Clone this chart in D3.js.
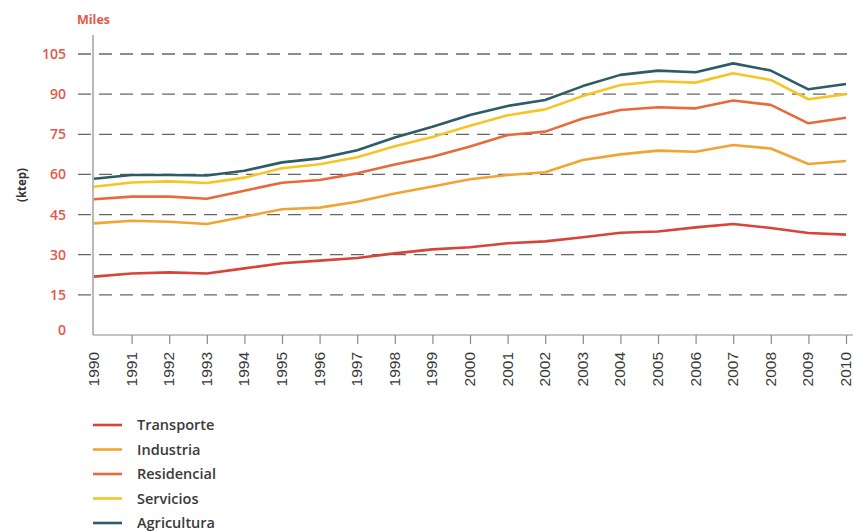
<!DOCTYPE html>
<html>
<head>
<meta charset="utf-8">
<script src="https://cdn.jsdelivr.net/npm/d3@7"></script>
<style>
  body { margin: 0; background: #fff; }
  svg { display: block; }
</style>
</head>
<body>
<svg id="chart" width="853" height="531"></svg>
<script>
// data (thousands of ktep)
const years = [1990, 1991, 1992, 1993, 1994, 1995, 1996, 1997, 1998, 1999, 2000,
  2001, 2002, 2003, 2004, 2005, 2006, 2007, 2008, 2009, 2010];
const transporte = [21.8, 23, 23.4, 23, 24.9, 26.8, 27.8, 28.8, 30.5, 32, 32.8,
  34.3, 35, 36.5, 38.2, 38.7, 40.2, 41.5, 40, 38.1, 37.5];
const industria = [41.7, 42.7, 42.3, 41.5, 44.2, 47, 47.6, 49.8, 52.9, 55.5, 58.2,
  59.8, 60.8, 65.4, 67.5, 68.9, 68.5, 71, 69.7, 63.9, 65];
const residencial = [50.7, 51.7, 51.7, 50.9, 53.9, 56.9, 57.9, 60.4, 63.7, 66.6, 70.4,
  74.7, 76, 80.9, 84.1, 85.1, 84.7, 87.6, 86, 79.1, 81.2];
const servicios = [55.4, 57, 57.4, 56.8, 58.8, 62.3, 63.8, 66.4, 70.5, 74, 78.2,
  82.1, 84.3, 89.3, 93.4, 94.8, 94.3, 97.8, 95.3, 88.1, 90];
const agricultura = [58.4, 59.8, 59.8, 59.6, 61.4, 64.5, 66, 69, 73.8, 77.8, 82.2,
  85.6, 87.8, 93, 97.2, 98.8, 98.2, 101.5, 98.8, 91.8, 93.8];
const yTicks = [0, 15, 30, 45, 60, 75, 90, 105];
const seriesNames = ["Transporte", "Industria", "Residencial", "Servicios", "Agricultura"];
const seriesColors = ["#d8443a", "#f0a532", "#e86a3c", "#f6c525", "#2e5b68"];
const seriesValues = [transporte, industria, residencial, servicios, agricultura];

const svg = d3.select("#chart");
const marginLeft = 93, marginTop = 54, marginBottom = 335;

const x = d3.scaleLinear().domain([1990, 2010]).range([marginLeft + 1, 846]);
const y = d3.scaleLinear().domain([0, 105]).range([marginBottom, marginTop]);

// dashed gridlines
svg.selectAll(".gridline")
  .data(yTicks.filter(d => d > 0))
  .join("line")
  .attr("class", "gridline")
  .attr("x1", 78)
  .attr("x2", 853)
  .attr("y1", d => y(d))
  .attr("y2", d => y(d))
  .attr("stroke", "#666")
  .attr("stroke-width", 1.3)
  .attr("stroke-dasharray", "13,8");

// y tick labels
svg.selectAll(".ylabel")
  .data(yTicks)
  .join("text")
  .attr("class", "ylabel")
  .attr("x", 66)
  .attr("y", d => (d === 0 ? y(d) - 5 : y(d)))
  .attr("dy", "0.36em")
  .attr("text-anchor", "end")
  .attr("fill", "#e4574b")
  .attr("font-family", "Open Sans, sans-serif")
  .attr("font-weight", 600)
  .attr("font-size", "14px")
  .text(d => d);

// axes
svg.append("line")
  .attr("x1", marginLeft).attr("x2", marginLeft)
  .attr("y1", 35).attr("y2", marginBottom)
  .attr("stroke", "#8a8a8a").attr("stroke-width", 1.2);

const xAxis = svg.append("g")
  .attr("transform", `translate(0, ${marginBottom})`)
  .call(d3.axisBottom(x).tickValues(years.slice(1)).tickSize(9).tickFormat(""));
xAxis.select(".domain")
  .attr("d", `M${marginLeft},0H853`)
  .attr("stroke", "#8a8a8a").attr("stroke-width", 1.2);
xAxis.selectAll(".tick line").attr("stroke", "#8a8a8a").attr("stroke-width", 1.2);

// year labels (rotated)
svg.selectAll(".xlabel")
  .data(years)
  .join("text")
  .attr("class", "xlabel")
  .attr("transform", d => `translate(${x(d) + 5}, 352) rotate(-90)`)
  .attr("text-anchor", "end")
  .attr("fill", "#3a3a3a")
  .attr("font-family", "Liberation Sans Narrow, Liberation Sans, sans-serif")
  .attr("font-size", "15.5px")
  .text(d => d);

// lines
const line = d3.line()
  .x((d, i) => x(years[i]))
  .y(d => y(d));

svg.selectAll(".series")
  .data(seriesValues)
  .join("path")
  .attr("class", "series")
  .attr("fill", "none")
  .attr("stroke", (d, i) => seriesColors[i])
  .attr("stroke-width", 2.6)
  .attr("stroke-linejoin", "round")
  .attr("d", line);

// unit labels
svg.append("text")
  .attr("x", 77).attr("y", 24)
  .attr("fill", "#e4574b")
  .attr("font-family", "Open Sans, sans-serif")
  .attr("font-weight", 700)
  .attr("font-size", "12.5px")
  .text("Miles");

svg.append("text")
  .attr("transform", "translate(26, 185) rotate(-90)")
  .attr("text-anchor", "middle")
  .attr("fill", "#333")
  .attr("font-family", "Open Sans, sans-serif")
  .attr("font-weight", 700)
  .attr("font-size", "11.5px")
  .text("(ktep)");

// legend
const legend = svg.selectAll(".legend")
  .data(seriesNames)
  .join("g")
  .attr("class", "legend")
  .attr("transform", (d, i) => `translate(93, ${425 + i * 24.5})`);

legend.append("line")
  .attr("x1", 0).attr("x2", 29)
  .attr("stroke", (d, i) => seriesColors[i])
  .attr("stroke-width", 2.6);

legend.append("text")
  .attr("x", 44)
  .attr("dy", "0.35em")
  .attr("fill", "#3a3a3a")
  .attr("font-family", "Open Sans, sans-serif")
  .attr("font-weight", 600)
  .attr("font-size", "14.5px")
  .text(d => d);
</script>
</body>
</html>
